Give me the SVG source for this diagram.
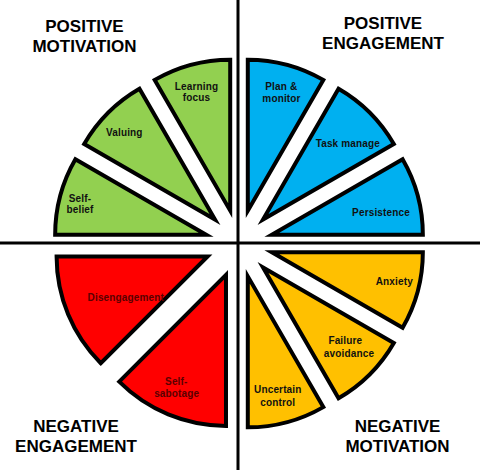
<svg xmlns="http://www.w3.org/2000/svg" width="480" height="470" viewBox="0 0 480 470">
<style>
.w{stroke:#000;stroke-width:4;stroke-linejoin:miter;stroke-miterlimit:10}
.g{fill:#92D050}.b{fill:#00B0F0}.r{fill:#FF0000}.y{fill:#FFC000}
.t{font-family:"Liberation Sans",Arial,sans-serif;font-size:17px;font-weight:bold;fill:#000;text-anchor:middle}
.l{font-family:"Liberation Sans",Arial,sans-serif;font-size:10px;font-weight:bold;fill:#111;text-anchor:middle;letter-spacing:0.15px}
.lr{font-family:"Liberation Sans",Arial,sans-serif;font-size:10px;font-weight:bold;fill:#5a0000;text-anchor:middle;letter-spacing:0.15px}
.ax{stroke:#000;stroke-width:3}
</style>
<rect width="480" height="470" fill="#fff"/>
<g id="axes">
<line class="ax" x1="238" y1="0" x2="238" y2="470"/>
<line class="ax" x1="0" y1="243" x2="480" y2="243"/>
</g>
<g id="title-positive-motivation"><text class="t" x="84.5" y="32">POSITIVE</text><text class="t" x="84.5" y="51.5">MOTIVATION</text></g>
<g id="title-positive-engagement"><text class="t" x="383" y="28.5">POSITIVE</text><text class="t" x="383" y="49">ENGAGEMENT</text></g>
<g id="title-negative-engagement"><text class="t" x="76" y="432">NEGATIVE</text><text class="t" x="76" y="451.5">ENGAGEMENT</text></g>
<g id="title-negative-motivation"><text class="t" x="397.5" y="432">NEGATIVE</text><text class="t" x="397.5" y="451.5">MOTIVATION</text></g>

<g id="learning-focus"><path class="w g" d="M230.2,210.66 L230.2,59.66 A151,151 0 0 0 154.7,79.89 Z"/><text class="l" x="196.5" y="89.5">Learning</text><text class="l" x="196.5" y="101">focus</text></g>
<g id="valuing"><path class="w g" d="M214.96,219.46 L139.46,88.69 A151,151 0 0 0 84.19,143.96 Z"/><text class="l" x="124.3" y="136">Valuing</text></g>
<g id="self-belief"><path class="w g" d="M206.16,234.7 L75.39,159.2 A151,151 0 0 0 55.16,234.7 Z"/><text class="l" x="80" y="201.5">Self-</text><text class="l" x="80" y="213.3">belief</text></g>

<g id="plan-monitor"><path class="w b" d="M247.8,210.66 L323.3,79.89 A151,151 0 0 0 247.8,59.66 Z"/><text class="l" x="281.3" y="90">Plan &amp;</text><text class="l" x="281.5" y="101.7">monitor</text></g>
<g id="task-manage"><path class="w b" d="M263.04,219.46 L393.81,143.96 A151,151 0 0 0 338.54,88.69 Z"/><text class="l" x="347.8" y="147.3">Task manage</text></g>
<g id="persistence"><path class="w b" d="M271.84,234.7 L422.84,234.7 A151,151 0 0 0 402.61,159.2 Z"/><text class="l" x="381" y="216">Persistence</text></g>

<g id="anxiety"><path class="w y" d="M271.84,252.3 L402.61,327.8 A151,151 0 0 0 422.84,252.3 Z"/><text class="l" x="394.3" y="285">Anxiety</text></g>
<g id="failure-avoidance"><path class="w y" d="M263.04,267.54 L338.54,398.31 A151,151 0 0 0 393.81,343.04 Z"/><text class="l" x="345.3" y="344">Failure</text><text class="l" x="349" y="357.3">avoidance</text></g>
<g id="uncertain-control"><path class="w y" d="M247.8,276.34 L247.8,427.34 A151,151 0 0 0 323.3,407.11 Z"/><text class="l" x="277.8" y="392.7">Uncertain</text><text class="l" x="277.8" y="405.7">control</text></g>

<g id="disengagement"><path class="w r" d="M207.59,256.51 L56.59,256.51 A151,151 0 0 0 100.82,363.28 Z"/><text class="lr" x="125.8" y="300.7">Disengagement</text></g>
<g id="self-sabotage"><path class="w r" d="M225.99,274.91 L119.22,381.68 A151,151 0 0 0 225.99,425.91 Z"/><text class="lr" x="176.3" y="385">Self-</text><text class="lr" x="176.7" y="396.7">sabotage</text></g>
</svg>
